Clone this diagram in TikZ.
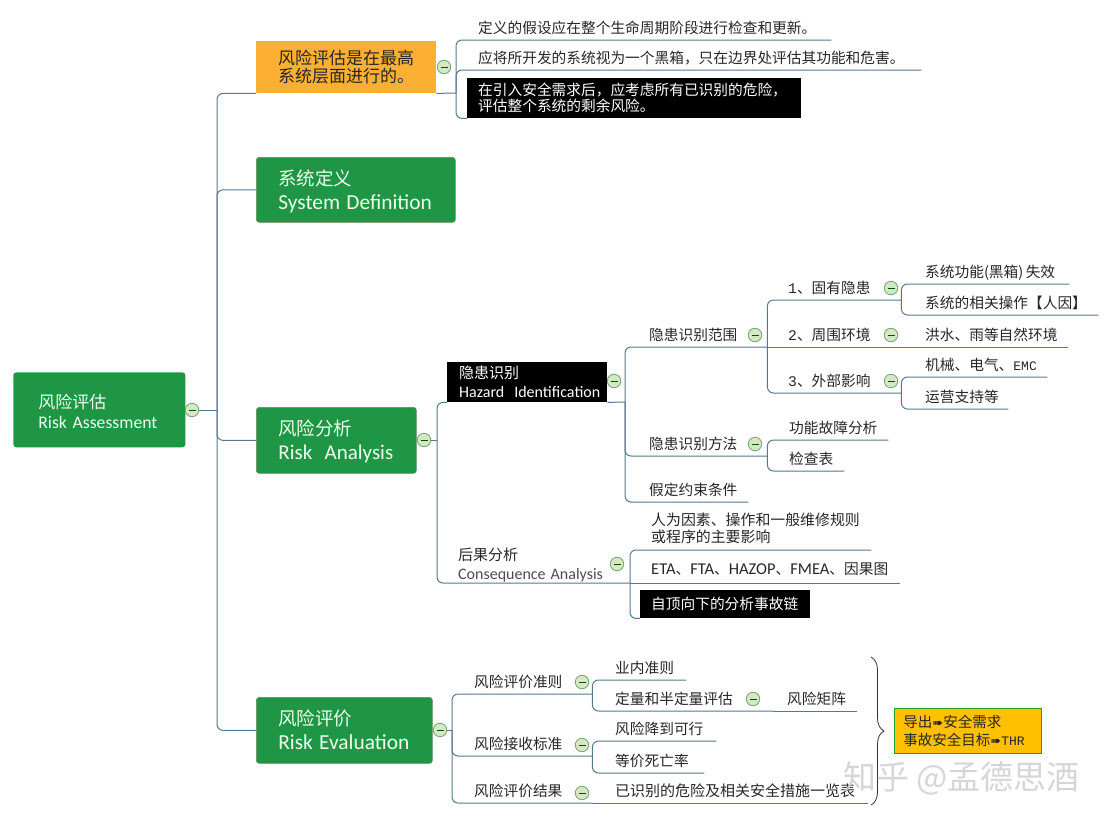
\documentclass[tikz,border=0pt]{standalone}
\usepackage{fontspec}
\setmainfont{Noto Sans CJK SC}
\newfontfamily\latinf{Carlito}
\newfontfamily\monof{Liberation Mono}
\newfontfamily\symbf{DejaVu Sans}
\usetikzlibrary{decorations.pathreplacing}
\definecolor{linkc}{HTML}{55798C}
\definecolor{greenc}{HTML}{1F9645}
\definecolor{orangec}{HTML}{FBB034}
\definecolor{yellowc}{HTML}{FFC000}
\definecolor{btnfill}{HTML}{D5E8C4}
\definecolor{btndraw}{HTML}{6FA56F}
\tikzset{
  link/.style={draw=linkc,line width=1pt,rounded corners=6pt},
  topic/.style={anchor=south west,inner xsep=0pt,inner ysep=3.4pt,text depth=3pt,align=left,text=black!85,
    font=\fontsize{14.7}{17}\selectfont},
  greenbox/.style={anchor=north west,rounded corners=3pt,fill=greenc,draw=black!25!green!25!gray,line width=0.7pt,inner xsep=22pt,inner ysep=0pt,
    text height=14pt,text depth=23pt,align=left,text=green!8,font=\fontsize{18.5}{24}\selectfont},
  blackbox/.style={anchor=north west,fill=black,text=white,inner xsep=11pt,inner ysep=0pt,align=left,
    font=\fontsize{14.7}{16}\selectfont},
  minus/.style={circle,draw=btndraw,fill=btnfill,line width=0.8pt,minimum size=13.5pt,inner sep=0pt,
    path picture={\draw[black!70!green,line width=0.8pt] (-3.5,0)--(3.5,0);}}
}
\begin{document}
\begin{tikzpicture}[x=1pt,y=-1pt]
  \useasboundingbox (0,0) rectangle (1110,825);
  % main boxes
  \node[greenbox,draw=none,minimum width=172pt,minimum height=75pt,text width=122pt,inner xsep=25pt,text height=13pt,text depth=15pt,
    font=\fontsize{17}{19.5}\selectfont] (root) at (13,372)
    {风险评估\\{\latinf\fontsize{17.7}{19.5}\selectfont Risk Assessment}};
  \node[anchor=north west,fill=orangec,minimum width=180pt,minimum height=52pt,text width=136pt,inner xsep=22pt,inner ysep=0pt,align=left,text=black!85,
    font=\fontsize{17}{18.5}\selectfont] (scopebox) at (256,41) {风险评估是在最高\\系统层面进行的。};
  \node[greenbox,minimum width=199pt,minimum height=65pt,text width=155pt] (sysdef) at (256,157)
    {系统定义\\{\latinf\fontsize{21.4}{24}\selectfont System Definition}};
  \node[greenbox,minimum width=160pt,minimum height=66pt,text width=116pt] (analysis) at (256,407)
    {风险分析\\{\latinf\fontsize{21}{24}\selectfont Risk\ \ Analysis}};
  \node[greenbox,minimum width=176pt,minimum height=66pt,text width=132pt] (evaluation) at (256,697)
    {风险评价\\{\latinf\fontsize{21.4}{24}\selectfont Risk Evaluation}};
  \coordinate (jroot) at (217,410);
  \coordinate (jscope) at (456,93);
  \coordinate (janalysis) at (437,440);
  \coordinate (jhazard) at (625,402);
  \coordinate (jconseq) at (630,583);
  \coordinate (jeval) at (452,730);
  \node[minus] (broot) at (192,410) {};
  \draw[link] (broot) -- (jroot);
  \draw[link] (jroot) |- (scopebox.south west);
  \draw[link] (jroot) |- (sysdef.west);
  \draw[link] (jroot) |- (analysis.west);
  \draw[link] (jroot) |- (evaluation.west);
  % first branch
  \node[minus] (bscope) at (444,67) {};
  \draw[link] (scopebox.south east) -- (jscope);
  \node[topic,text width=353pt] (assume) at (478,40) {定义的假设应在整个生命周期阶段进行检查和更新。};
  \node[topic,text width=443pt] (blackb) at (478,70) {应将所开发的系统视为一个黑箱，只在边界处评估其功能和危害。};
  \node[blackbox,minimum width=334pt,minimum height=40pt,text width=312pt] (residual) at (467,78) {在引入安全需求后，应考虑所有已识别的危险，\\评估整个系统的剩余风险。};
  \draw[link] (jscope) |- (assume.south east);
  \draw[link] (jscope) |- (blackb.south east);
  \draw[link] (jscope) |- (residual.south west);
  % risk analysis
  \node[minus] (banalysis) at (424,440) {};
  \draw[link] (banalysis) -- (janalysis);
  \node[blackbox,minimum width=160pt,minimum height=40pt,text width=148pt,inner xsep=6pt,
    inner ysep=0pt,font=\fontsize{15}{20}\selectfont] (hazard) at (447,362)
    {\hspace{6pt}隐患识别\\[-1pt]\hspace{6pt}{\latinf\fontsize{16}{18}\selectfont Hazard\ \ Identification}};
  \node[topic,text width=172pt,inner ysep=0pt,text depth=22pt,font=\fontsize{15}{19}\selectfont] (conseq) at (458,583)
    {后果分析\\{\latinf\fontsize{16}{18}\selectfont\color{black!70} Consequence Analysis}};
  \draw[link] (janalysis) |- (hazard.south west);
  \draw[link] (janalysis) |- (conseq.south east);
  \draw[link] (hazard.south east) -- (jhazard);
  \node[minus] (bhazard) at (614,381) {};
  \node[minus] (bconseq) at (617,564) {};
  % hazard identification
  \node[topic,text width=118pt] (range) at (649,347) {隐患识别范围};
  \node[topic,text width=118pt] (method) at (649,456) {隐患识别方法};
  \node[topic,text width=99pt] (constraint) at (649,502) {假定约束条件};
  \node[minus] (brange) at (755,335) {};
  \node[minus] (bmethod) at (755,444) {};
  \draw[link] (jhazard) |- (range.south east);
  \draw[link] (jhazard) |- (method.south east);
  \draw[link] (jhazard) |- (constraint.south east);
  \node[topic,text width=113pt] (inherent) at (788,300) {{\monof 1}、固有隐患};
  \node[topic,text width=113pt] (surround) at (788,347) {{\monof 2}、周围环境};
  \node[topic,text width=113pt] (external) at (788,393) {{\monof 3}、外部影响};
  \node[minus] (binherent) at (891,288) {};
  \node[minus] (bsurround) at (891,335) {};
  \node[minus] (bexternal) at (891,381) {};
  \draw[link] (range.south east) |- (inherent.south east);
  \draw[link] (range.south east) -- (surround.south east);
  \draw[link] (range.south east) |- (external.south east);
  \node[topic,text width=144pt] (failure) at (925,284) {系统功能(黑箱)\,失效};
  \node[topic,text width=173pt] (operate) at (925,315) {系统的相关操作【人因】};
  \node[topic,text width=143pt] (flood) at (925,347) {洪水、雨等自然环境};
  \node[topic,text width=122pt] (emc) at (925,377) {机械、电气、{\monof\fontsize{13}{17}\selectfont EMC}};
  \node[topic,text width=83pt] (support) at (925,409) {运营支持等};
  \draw[link] (inherent.south east) |- (failure.south east);
  \draw[link] (inherent.south east) |- (operate.south east);
  \draw[link] (surround.south east) -- (flood.south east);
  \draw[link] (external.south east) |- (emc.south east);
  \draw[link] (external.south east) |- (support.south east);
  \node[topic,text width=99pt] (fault) at (789,440) {功能故障分析};
  \node[topic,text width=55pt] (checklist) at (789,471) {检查表};
  \draw[link] (method.south east) |- (fault.south east);
  \draw[link] (method.south east) |- (checklist.south east);
  % consequence analysis
  \draw[link] (conseq.south east) -- (jconseq);
  \node[topic,text width=220pt,inner ysep=0pt,text depth=24.4pt,font=\fontsize{14.9}{17}\selectfont] (human) at (651,550) {人为因素、操作和一般维修规则\\或程序的主要影响};
  \node[topic,text width=249pt,inner ysep=5.4pt] (eta) at (651,583) {{\latinf\fontsize{16.5}{17}\selectfont ETA}、{\latinf\fontsize{16.5}{17}\selectfont FTA}、{\latinf\fontsize{16.5}{17}\selectfont HAZOP}、{\latinf\fontsize{16.5}{17}\selectfont FMEA}、因果图};
  \node[blackbox,minimum width=170pt,minimum height=28pt,text width=148pt] (topdown) at (640,590) {自顶向下的分析事故链};
  \draw[link] (jconseq) |- (human.south east);
  \draw[link] (jconseq) -- (eta.south east);
  \draw[link] (jconseq) |- (topdown.south west);
  % risk evaluation
  \node[minus] (beval) at (440,730) {};
  \draw[link] (beval) -- (jeval);
  \node[topic,text width=118pt] (criteria) at (474,694) {风险评价准则};
  \node[topic,text width=118pt] (accept) at (474,756) {风险接收标准};
  \node[topic,text width=118pt] (result) at (474,803) {风险评价结果};
  \node[minus] (bcriteria) at (582,682) {};
  \node[minus] (baccept) at (582,745) {};
  \node[minus] (bresult) at (582,793) {};
  \draw[link] (jeval) |- (criteria.south east);
  \draw[link] (jeval) |- (accept.south east);
  \draw[link] (jeval) |- (result.south east);
  \node[topic,text width=71pt] (industry) at (615,680) {业内准则};
  \node[topic,text width=158pt] (quant) at (615,711) {定量和半定量评估};
  \node[topic,text width=70pt] (matrix) at (787,711) {风险矩阵};
  \node[minus] (bquant) at (753,699) {};
  \draw[link] (criteria.south east) |- (industry.south east);
  \draw[link] (criteria.south east) |- (quant.south east);
  \draw[link] (quant.south east) -- (matrix.south east);
  \node[topic,text width=101pt] (alarp) at (615,741) {风险降到可行};
  \node[topic,text width=89pt] (mortality) at (615,773) {等价死亡率};
  \draw[link] (accept.south east) |- (alarp.south east);
  \draw[link] (accept.south east) |- (mortality.south east);
  \node[topic,text width=253pt,font=\fontsize{15}{17}\selectfont] (measures) at (615,803) {已识别的危险及相关安全措施一览表};
  \draw[link] (result.south east) -- (measures.south east);
  % summary
  \coordinate (bracetop) at (871,657);
  \coordinate (bracebot) at (871,805);
  \draw[black!80,line width=0.8pt,decorate,decoration={brace,amplitude=13pt}] (bracetop) -- (bracebot);
  \node[anchor=north west,fill=yellowc,draw=black!30!green!70!gray,line width=0.8pt,minimum width=147pt,minimum height=45pt,
    text width=129pt,inner xsep=9pt,inner ysep=0pt,align=left,text=black!85,font=\fontsize{14.5}{18}\selectfont] (output) at (894,708)
    {导出{\symbf\fontsize{13}{18}\selectfont ➠}安全需求\\事故安全目标{\symbf\fontsize{13}{18}\selectfont ➠}{\monof\fontsize{13}{18}\selectfont THR}};
  \node[anchor=west,inner sep=0pt,text=black!18,opacity=0.9,font=\fontsize{33}{38}\selectfont] (mark) at (843,778) {知乎\ @孟德思酒};
\end{tikzpicture}
\end{document}
